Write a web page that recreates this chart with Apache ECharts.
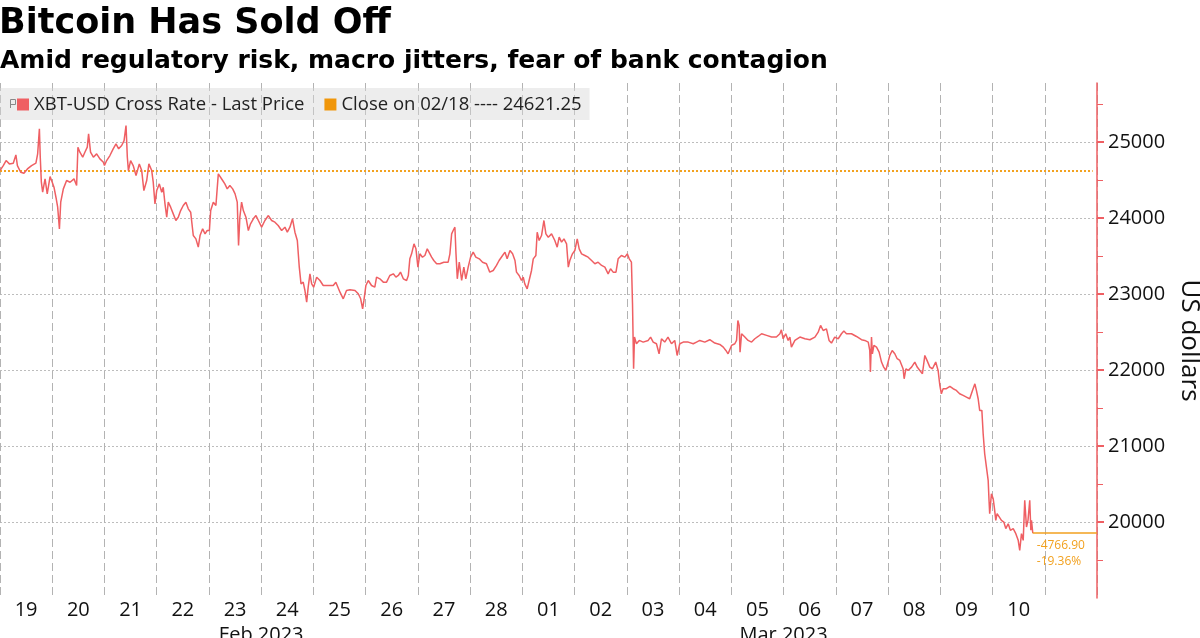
<!DOCTYPE html>
<html>
<head>
<meta charset="utf-8">
<script src="https://cdn.jsdelivr.net/npm/echarts@6/dist/echarts.min.js"></script>
<style>html,body{margin:0;padding:0;background:#fff}#c{width:1200px;height:638px}</style>
</head>
<body>
<div id="c"></div>
<script>
const chartTitle = 'Bitcoin Has Sold Off';
const chartSubtitle = 'Amid regulatory risk, macro jitters, fear of bank contagion';
const seriesName = 'XBT-USD Cross Rate - Last Price';
const prevClose = 24621.25;
const closeName = 'Close on 02/18 ---- ' + prevClose.toFixed(2);
const dayLabels = ['19','20','21','22','23','24','25','26','27','28','01','02','03','04','05','06','07','08','09','10',''];
const monthHours = [120, 360];
const monthNames = ['Feb 2023', 'Mar 2023'];
const yMinorTicks = [19500, 20500, 21500, 22500, 23500, 24500, 25500];

// hours since 19 Feb 00:00
const hours = [
0,1.5,2.8,4.3,6.1,7.3,8.0,9.5,11.0,12.6,14.5,16.5,17.3,18.1,18.5,19.0,19.6,20.7,21.7,23.0,
24.0,24.8,25.7,26.5,27.3,27.9,29.1,30.6,32.2,34.0,35.2,35.8,36.7,38.0,39.0,40.1,40.7,41.6,42.9,44.4,45.9,47.5,
48.0,49.0,50.5,52.0,53.3,54.5,55.9,57.0,57.9,58.5,59.0,60.0,61.2,62.5,64.0,65.1,66.1,67.4,68.4,69.7,70.4,71.2,
72.0,73.2,74.3,75.0,75.8,76.6,77.3,78.4,79.6,80.8,81.9,83.0,84.2,85.4,86.5,87.6,88.8,90.0,91.1,91.9,93.1,94.2,95.2,
96.2,96.8,98.0,99.2,100.3,101.0,102.3,103.3,104.4,105.6,106.9,108.0,109.0,109.6,110.2,111.0,111.8,113.0,114.1,115.1,116.4,117.6,118.7,
120.2,121.7,123.3,124.8,126.3,127.8,129.4,130.9,132.0,133.2,134.4,135.5,136.6,137.5,138.3,139.3,140.1,140.9,141.6,142.4,143.2,
144.1,145.5,147.0,148.5,150.8,153.1,154.3,156.2,157.7,159.2,160.8,163.1,164.6,165.7,166.6,167.2,
168.1,169.2,170.7,172.2,173.0,174.5,176.1,177.6,179.1,180.7,181.9,183.0,184.0,185.3,186.8,187.6,188.3,189.1,190.2,191.1,
192.0,192.9,194.1,195.2,196.3,197.2,198.3,199.3,200.6,202.1,203.9,205.9,206.7,207.5,208.2,209.0,209.5,210.1,211.0,212.1,213.1,214.0,215.1,
216.2,217.4,218.6,220.2,221.7,223.5,225.0,226.6,228.1,229.3,230.9,232.0,233.0,234.3,235.5,236.6,237.3,238.5,239.6,
240.4,241.1,242.2,243.1,244.2,245.0,246.2,246.8,247.7,248.8,249.9,250.8,251.9,253.4,254.9,256.0,256.9,258.0,259.1,260.3,261.1,261.8,263.0,
264.1,265.2,266.1,267.2,268.7,270.2,271.8,273.3,274.8,276.4,277.9,279.4,280.5,281.7,283.0,284.0,285.5,287.1,
288.2,289.1,290.1,290.6,291.1,291.5,292.4,293.7,295.5,297.8,298.9,300.1,301.6,302.8,303.9,305.4,306.9,308.5,310.0,311.1,
312.3,313.9,316.2,318.5,320.0,321.5,323.8,326.1,328.4,330.7,332.3,333.5,334.5,335.3,
336.1,337.6,338.4,339.0,339.6,340.0,340.7,342.2,343.7,345.3,346.8,348.3,349.9,352.2,354.5,356.7,358.3,359.0,359.8,
361.0,362.1,362.9,363.6,365.2,367.5,369.8,372.1,374.4,375.9,377.0,378.2,379.7,380.9,382.0,383.5,
385.1,386.6,387.7,388.9,391.2,393.5,395.8,397.3,398.9,399.6,399.9,400.4,400.8,401.5,402.7,403.9,405.0,406.0,407.0,408.0,
408.8,409.9,411.1,412.2,413.4,414.9,415.4,416.2,417.2,418.8,420.3,421.4,422.6,423.8,424.9,425.9,427.2,428.4,429.9,431.0,
431.8,432.5,433.3,434.8,436.4,437.9,439.4,440.9,442.5,444.0,445.5,446.8,447.9,448.6,449.4,450.1,451.1,451.7,452.4,453.2,454.0,454.4,454.7,
455.5,456.3,456.9,457.5,458.1,459.0,460.1,461.2,462.1,463.2,464.2,465.5,466.7,467.8,468.5,469.3,470.1,470.8,471.6,472.3,473.1,473.6,473.9,474.5
];
const prices = [
24627,24693,24759,24715,24724,24834,24693,24605,24592,24649,24693,24724,24847,25176,24803,24474,24342,24518,24320,24548,
24474,24408,24276,24145,23860,24211,24386,24496,24474,24518,24430,24935,24869,24803,24869,24935,25110,24869,24803,24847,24781,24737,
24693,24759,24825,24913,24978,24913,24957,25022,25219,24803,24627,24759,24693,24561,24715,24627,24364,24496,24715,24627,24474,24189,
24364,24452,24342,24408,24189,24013,24211,24145,24057,23970,24013,24101,24167,24211,24123,24079,23772,23728,23619,23772,23860,23794,23838,
23838,24101,24211,24167,24583,24561,24496,24452,24386,24430,24386,24320,24211,23641,24013,24211,24101,24013,23838,23926,23992,24035,23970,
23882,23970,24035,23970,23948,23904,23838,23882,23816,23882,23992,23816,23706,23355,23136,23158,23048,22895,23092,23268,23136,
23092,23224,23180,23114,23114,23114,23158,23026,22939,23048,23057,23049,23005,22939,22807,22917,
23114,23180,23114,23092,23224,23202,23158,23158,23246,23268,23224,23246,23290,23202,23180,23246,23465,23531,23663,23597,
23356,23531,23487,23509,23597,23575,23487,23443,23400,23400,23421,23421,23531,23794,23838,23882,23531,23202,23421,23180,23356,23202,23356,
23487,23553,23487,23465,23421,23400,23290,23312,23378,23443,23509,23553,23465,23575,23531,23443,23290,23246,23180,
23224,23136,23070,23180,23312,23465,23509,23816,23707,23772,23970,23794,23750,23794,23707,23619,23750,23685,23728,23663,23356,23443,23531,
23575,23728,23597,23531,23509,23487,23443,23400,23421,23378,23356,23268,23334,23290,23290,23465,23509,23487,
23531,23465,23421,22873,22018,22435,22347,22391,22369,22391,22435,22369,22347,22215,22413,22369,22435,22347,22391,22193,
22347,22369,22369,22347,22369,22391,22369,22400,22356,22338,22303,22259,22215,22237,
22325,22347,22391,22654,22588,22237,22479,22435,22391,22369,22413,22443,22479,22457,22435,22435,22479,22531,22413,
22479,22391,22435,22303,22391,22435,22413,22400,22435,22500,22588,22522,22544,22391,22356,22435,
22413,22479,22514,22479,22479,22443,22400,22391,22369,22259,21974,22435,22215,22325,22303,22237,22106,22040,21996,22106,
22193,22259,22215,22150,22128,22018,21886,22018,21996,22040,22106,22040,21996,21952,22193,22128,22040,22018,22106,21996,
21798,21689,21755,21755,21785,21755,21733,21689,21667,21645,21623,21733,21820,21733,21623,21470,21470,21163,20899,20724,20549,20285,20110,
20373,20307,20176,20022,20110,20088,20022,20000,19913,19978,19891,19913,19847,19759,19628,19847,19759,20285,19935,20022,20285,19891,20022,19854.35
];

const lastH = hours[hours.length - 1];
const lastP = prices[prices.length - 1];
const chg = lastP - prevClose;
const pct = chg / prevClose * 100;

const RED = '#ef5f63';
const ORANGE = '#f2a11f';
const FONT = 'Open Sans';

const chart = echarts.init(document.getElementById('c'), null, {renderer: 'canvas'});
chart.setOption({
  animation: false,
  backgroundColor: '#ffffff',
  title: [
    {text: chartTitle, left: -1, top: 6, padding: 0,
     textStyle: {fontFamily: 'DejaVu Sans', fontWeight: 'bold', fontSize: 35, color: '#000'}},
    {text: chartSubtitle, left: 0, top: 49, padding: 0,
     textStyle: {fontFamily: 'DejaVu Sans', fontWeight: 'bold', fontSize: 25, color: '#000'}}
  ],
  graphic: [
    {type: 'rect', left: 8, top: 97, shape: {width: 5, height: 5}, style: {fill: 'none', stroke: '#888', lineWidth: 1}, z: 10},
    {type: 'line', shape: {x1: 10.5, y1: 102, x2: 10.5, y2: 108}, style: {stroke: '#888', lineWidth: 1}, z: 10}
  ],
  legend: {
    left: 0, top: 88, padding: [7, 8, 6, 17], itemWidth: 12, itemHeight: 12, itemGap: 20,
    icon: 'rect', backgroundColor: 'rgba(215,215,215,0.45)',
    textStyle: {fontFamily: FONT, fontSize: 18.5, color: '#222'},
    data: [{name: seriesName, itemStyle: {color: RED}}, {name: closeName, itemStyle: {color: '#f0960a'}}]
  },
  grid: {left: 0, right: 103, top: 83, bottom: 40, outerBoundsMode: 'none', containLabel: false},
  xAxis: [
    {type: 'category', data: dayLabels, boundaryGap: true,
     axisLine: {show: false}, axisTick: {show: false},
     axisLabel: {interval: 0, margin: 2, fontSize: 20, color: '#111', fontFamily: FONT},
     splitLine: {show: true, interval: 0, lineStyle: {color: '#b3b3b3', type: [8, 4], width: 1}}},
    {type: 'value', min: 0, max: 504, interval: 24, position: 'bottom',
     axisLine: {show: false}, axisTick: {show: false}, splitLine: {show: false},
     axisLabel: {margin: 27, fontSize: 20, color: '#111', fontFamily: FONT, hideOverlap: false,
       formatter: v => { const i = monthHours.indexOf(v); return i >= 0 ? monthNames[i] : ''; }}}
  ],
  yAxis: [
    {type: 'value', position: 'right', min: 19000, max: 25780, interval: 1000,
     axisLine: {show: true, onZero: false, lineStyle: {color: RED, width: 1.5}},
     axisTick: {show: true, length: 7, lineStyle: {color: RED, width: 2}},
     axisLabel: {showMinLabel: false, showMaxLabel: false, margin: 11, fontSize: 20, color: '#111', fontFamily: FONT,
       formatter: v => String(v)},
     splitLine: {show: true, showMinLine: false, showMaxLine: false, lineStyle: {type: [2, 2], color: '#bdbdbd'}},
     name: 'US dollars', nameLocation: 'middle', nameRotate: -90, nameGap: 73,
     nameTextStyle: {fontSize: 26, color: '#111', fontFamily: FONT}},
    {type: 'value', position: 'right', offset: 0, min: 19000, max: 25780, interval: 500,
     axisLine: {show: false, onZero: false}, axisLabel: {show: false}, splitLine: {show: false},
     axisTick: {show: true, length: 6, customValues: yMinorTicks, lineStyle: {color: RED, width: 1}}}
  ],
  series: [
    {name: seriesName, type: 'line', xAxisIndex: 1, yAxisIndex: 0, showSymbol: false, symbol: 'none',
     data: hours.map((h, i) => [h, prices[i]]),
     lineStyle: {color: RED, width: 1.5}, itemStyle: {color: RED}, z: 3,
     markLine: {silent: true, symbol: 'none', animation: false,
       lineStyle: {color: ORANGE, type: 'solid', width: 1.5},
       label: {show: true, position: 'insideStartBottom', distance: [4, 4], align: 'left',
         formatter: chg.toFixed(2) + '\n' + pct.toFixed(2) + '%', color: ORANGE, fontSize: 12, lineHeight: 16, fontFamily: FONT},
       data: [[{coord: [lastH, lastP]}, {coord: [504, lastP]}]]}},
    {name: closeName, type: 'line', xAxisIndex: 1, yAxisIndex: 0, showSymbol: false, symbol: 'none',
     data: [[0, prevClose], [502, prevClose]],
     lineStyle: {color: ORANGE, type: [2, 2], width: 2}, itemStyle: {color: '#f0960a'}, z: 2}
  ]
});
</script>
</body>
</html>
